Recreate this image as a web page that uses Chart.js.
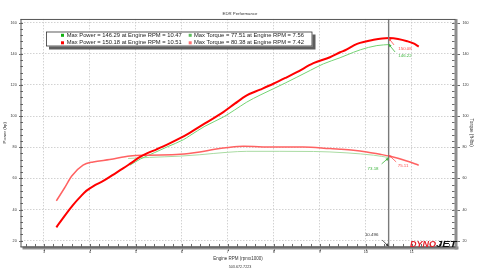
<!DOCTYPE html>
<html><head><meta charset="utf-8">
<script src="https://cdn.jsdelivr.net/npm/chart.js@4/dist/chart.umd.min.js"></script>
<style>html,body{margin:0;padding:0;background:#fff;}#wrap{width:480px;height:270px;}</style>
</head><body><div id="wrap"><canvas id="c" width="480" height="270"></canvas></div>
<script>
// ---- text ----
const chartTitle = 'EDR Performance';
const xTitle = 'Engine RPM (rpmx1000)';
const footerText = '503.672.7223';
const leftTitle = 'Power (hp)';
const rightTitle = 'Torque (ft-lbs)';
const legendRun1 = ['Max Power = 146.29 at Engine RPM = 10.47', 'Max Torque = 77.51 at Engine RPM = 7.56'];
const legendRun2 = ['Max Power = 150.18 at Engine RPM = 10.51', 'Max Torque = 80.38 at Engine RPM = 7.42'];

// ---- axis ranges / ticks ----
const rpmRange = [2.49, 11.95];
const valueRange = [16.3, 162.4];
const rpmMinorStep = 0.2, rpmMajorStep = 1;
const valueMinorStep = 4, valueMajorStep = 20;

// ---- run 2 (red) ----
const run2PowerRpm = [3.27,3.45,3.63,3.8,3.92,4.1,4.29,4.5,4.72,4.9,5.09,5.25,5.45,5.7,5.96,6.17,6.5,6.9,7.15,7.41,7.7,7.99,8.25,8.5,8.86,9.22,9.44,9.55,9.81,10.17,10.5,10.7,10.9,11.05,11.15];
const run2PowerHp  = [28.6,36.0,42.9,48.5,52.0,55.5,58.4,62.3,66.4,70.0,73.8,76.2,78.7,82.0,85.8,89.3,95.3,102.6,108.0,113.3,117.0,120.8,124.5,128.2,134.0,137.8,141.0,142.3,146.4,149.0,150.1,149.6,148.1,146.5,144.7];
const run2TorqueRpm = [3.27,3.45,3.6,3.85,4.07,4.43,4.87,5.3,5.96,6.39,6.68,7.0,7.34,7.99,8.64,9.22,9.44,9.73,10.02,10.31,10.53,10.89,11.15];
const run2TorqueFtlb = [45.6,54.0,61.4,68.5,70.6,72.1,74.4,74.9,75.5,77.0,78.5,79.8,80.6,80.2,80.2,79.2,78.8,78.1,77.0,75.5,74.2,71.2,68.5];

// ---- run 1 (green) ----
const run1PowerRpm = [4.87,5.1,5.4,5.7,6.03,6.17,6.5,6.9,7.15,7.41,7.7,7.99,8.25,8.5,8.8,9.08,9.44,9.59,9.88,10.24,10.53];
const run1PowerHp  = [68.5,72.5,76.5,80.5,84.8,87.4,93.5,99.4,104.0,109.0,113.5,117.6,121.3,125.0,129.5,133.6,137.5,139.3,142.6,145.3,146.0];
const run1TorqueRpm = [4.83,5.3,5.96,6.39,6.68,7.0,7.41,8.13,8.86,9.22,9.59,10.17,10.5];
const run1TorqueFtlb = [72.8,73.5,74.3,75.2,76.0,76.8,77.4,77.4,77.3,77.0,76.4,74.9,73.4];

// ---- marker + callouts ----
const markerRpm = 10.496;
const markerLabel = '10.496';
const calloutValues = [150.08, 146.22, 73.18, 75.11];
const calloutAxes = ['y', 'y', 'y2', 'y2'];

// ---- styles ----
const F = '"Liberation Sans", Arial, sans-serif';
const TXT = '#333';
const C_RED = '#ff0000', C_RED_T = '#ff6262', C_GRN = '#74d474', C_GRN_T = '#a9dba2';
const calloutStyle = [
  {color:'#ff4848', dx:16.4, dy:11.1, ax:5.4, ay:6.8},
  {color:'#3cb43c', dx:16.4, dy:11.5, ax:6.4, ay:7.8},
  {color:'#3cb43c', dx:-15.6, dy:11.1, ax:-7, ay:6},
  {color:'#ff5050', dx:14.4, dy:11.1, ax:7.5, ay:7}
];

const pts = (xs, ys) => xs.map((x, i) => ({x: x, y: ys[i]}));
const isMajor = (v, step) => Math.abs(v / step - Math.round(v / step)) < 1e-6;

function arrow(ctx, x1, y1, x2, y2, color) {
  ctx.save();
  ctx.strokeStyle = color; ctx.fillStyle = color; ctx.lineWidth = 0.8;
  ctx.beginPath(); ctx.moveTo(x1, y1); ctx.lineTo(x2, y2); ctx.stroke();
  const a = Math.atan2(y2 - y1, x2 - x1), L = 3, W = 1.4;
  ctx.beginPath(); ctx.moveTo(x2, y2);
  ctx.lineTo(x2 - L*Math.cos(a) + W*Math.sin(a), y2 - L*Math.sin(a) - W*Math.cos(a));
  ctx.lineTo(x2 - L*Math.cos(a) - W*Math.sin(a), y2 - L*Math.sin(a) + W*Math.cos(a));
  ctx.closePath(); ctx.fill();
  ctx.restore();
}

const decor = {
  id: 'decor',
  afterDatasetsDraw(chart) {
    const ctx = chart.ctx, ca = chart.chartArea, sx = chart.scales.x;
    const mx = sx.getPixelForValue(markerRpm);
    ctx.save();
    ctx.strokeStyle = '#7a7a7a'; ctx.lineWidth = 1.4;
    ctx.beginPath(); ctx.moveTo(mx, ca.top); ctx.lineTo(mx, ca.bottom); ctx.stroke();
    ctx.font = '4.4px ' + F; ctx.textAlign = 'center'; ctx.textBaseline = 'middle';
    calloutValues.forEach((v, i) => {
      const s = calloutStyle[i];
      const py = chart.scales[calloutAxes[i]].getPixelForValue(v);
      arrow(ctx, mx + s.ax, py + s.ay, mx, py, s.color);
      ctx.fillStyle = s.color;
      ctx.fillText(v.toFixed(2), mx + s.dx, py + s.dy);
    });
    arrow(ctx, mx - 6.5, ca.bottom - 6.5, mx, ca.bottom, '#333');
    ctx.fillStyle = TXT;
    ctx.fillText(markerLabel, mx - 17, ca.bottom - 11.5);
    ctx.restore();
  },
  afterDraw(chart) {
    const ctx = chart.ctx, ca = chart.chartArea;
    const {left, right, top, bottom} = ca;
    ctx.save();
    ctx.fillStyle = '#8e8e8e';
    ctx.fillRect(right - 1, top, 3, bottom - top + 3);
    ctx.fillRect(left + 2, bottom, right - left + 1, 3);
    ctx.strokeStyle = '#555'; ctx.lineWidth = 1;
    ctx.beginPath(); ctx.moveTo(left, top + 0.5); ctx.lineTo(right, top + 0.5); ctx.stroke();
    ctx.beginPath(); ctx.moveTo(left + 0.5, top); ctx.lineTo(left + 0.5, bottom + 0.5); ctx.stroke();
    ctx.strokeStyle = '#444';
    ctx.beginPath(); ctx.moveTo(left, bottom + 0.5); ctx.lineTo(right, bottom + 0.5); ctx.stroke();
    ctx.strokeStyle = '#444'; ctx.lineWidth = 0.8;
    const sx = chart.scales.x;
    sx.ticks.forEach(t => {
      const p = Math.round(sx.getPixelForValue(t.value)) + 0.5;
      ctx.beginPath(); ctx.moveTo(p, bottom); ctx.lineTo(p, bottom - 2.5); ctx.stroke();
      if (isMajor(t.value, rpmMajorStep)) { ctx.beginPath(); ctx.moveTo(p, bottom + 3); ctx.lineTo(p, bottom + 4.5); ctx.stroke(); }
    });
    const sy = chart.scales.y;
    sy.ticks.forEach(t => {
      const p = Math.round(sy.getPixelForValue(t.value)) + 0.5;
      ctx.beginPath(); ctx.moveTo(left, p); ctx.lineTo(left + 2.5, p); ctx.stroke();
      if (isMajor(t.value, valueMajorStep)) { ctx.beginPath(); ctx.moveTo(left - 1.5, p); ctx.lineTo(left, p); ctx.stroke(); }
    });
    const sy2 = chart.scales.y2;
    sy2.ticks.forEach(t => {
      const p = Math.round(sy2.getPixelForValue(t.value)) + 0.5;
      ctx.beginPath(); ctx.moveTo(right - 1, p); ctx.lineTo(right - 3.5, p); ctx.stroke();
      if (isMajor(t.value, valueMajorStep)) { ctx.beginPath(); ctx.moveTo(right + 2, p); ctx.lineTo(right + 4.5, p); ctx.stroke(); }
    });
    const lx = 46, ly = 31.5, lw = 266.5, lh = 15;
    ctx.fillStyle = '#5e5e5e'; ctx.fillRect(lx + 3, ly + 3, lw, lh);
    ctx.fillStyle = '#fff'; ctx.fillRect(lx, ly, lw, lh);
    ctx.strokeStyle = '#333'; ctx.lineWidth = 0.8; ctx.strokeRect(lx + 0.5, ly + 0.5, lw - 1, lh - 1);
    ctx.font = '5.8px ' + F; ctx.textAlign = 'left'; ctx.textBaseline = 'middle';
    const rows = [[legendRun1, ['#10b010', '#5cbc5c']], [legendRun2, ['#ff0000', '#ff7070']]];
    const rowY = [35.3, 42.8], sqX = [61, 188.7], txX = [66.7, 194];
    rows.forEach((r, ri) => {
      r[0].forEach((txt, ci) => {
        ctx.fillStyle = r[1][ci]; ctx.fillRect(sqX[ci], rowY[ri] - 1.5, 3, 3);
        ctx.fillStyle = '#222'; ctx.fillText(txt, txX[ci], rowY[ri]);
      });
    });
    ctx.textBaseline = 'alphabetic';
    ctx.font = 'italic bold 9px ' + F;
    ctx.fillStyle = '#e3202a';
    ctx.fillText('DYNO', 410, 246.5);
    const w = ctx.measureText('DYNO').width;
    ctx.save(); ctx.translate(410 + w, 246.5); ctx.scale(1.25, 1);
    ctx.fillStyle = '#111'; ctx.fillText('JET', 0, 0);
    ctx.restore();
    ctx.restore();
  }
};

const yTicks = {stepSize: valueMinorStep, includeBounds: false, maxTicksLimit: 200, autoSkip: false,
  color: TXT, font: {family: F, size: 3.7}, callback: v => isMajor(v, valueMajorStep) ? String(Math.round(v)) : ''};
const gridY = {drawTicks: false, lineWidth: 0.8, color: c => (c.tick && isMajor(c.tick.value, valueMajorStep)) ? '#c6c6c6' : 'rgba(0,0,0,0)'};

new Chart(document.getElementById('c'), {
  type: 'line',
  data: {
    datasets: [
      {label: 'Run 2 Power', data: pts(run2PowerRpm, run2PowerHp), yAxisID: 'y', borderColor: C_RED, borderWidth: 2, order: 0},
      {label: 'Run 2 Torque', data: pts(run2TorqueRpm, run2TorqueFtlb), yAxisID: 'y2', borderColor: C_RED_T, borderWidth: 1.5, order: 1},
      {label: 'Run 1 Power', data: pts(run1PowerRpm, run1PowerHp), yAxisID: 'y', borderColor: C_GRN, borderWidth: 1, order: 2},
      {label: 'Run 1 Torque', data: pts(run1TorqueRpm, run1TorqueFtlb), yAxisID: 'y2', borderColor: C_GRN_T, borderWidth: 1, order: 3}
    ].map(d => Object.assign(d, {pointRadius: 0, fill: false, cubicInterpolationMode: 'monotone'}))
  },
  options: {
    responsive: false, animation: false, devicePixelRatio: 1,
    layout: {padding: 0},
    plugins: {
      legend: {display: false}, tooltip: {enabled: false},
      title: {display: true, text: chartTitle, color: TXT, font: {family: F, size: 4.3, weight: 'normal'}, padding: {top: 11.2, bottom: 2.6}},
      subtitle: {display: true, position: 'bottom', text: footerText, color: TXT, font: {family: F, size: 3.7}, padding: {top: 0, bottom: 1.1}}
    },
    scales: {
      x: {type: 'linear', position: 'bottom', min: rpmRange[0], max: rpmRange[1],
        ticks: {stepSize: rpmMinorStep, includeBounds: false, maxTicksLimit: 200, autoSkip: false, maxRotation: 0, minRotation: 0,
          padding: 3.5, color: TXT, font: {family: F, size: 3.8},
          callback: v => isMajor(v, rpmMajorStep) ? String(Math.round(v)) : ''},
        grid: {drawTicks: false, lineWidth: 0.8, color: c => (c.tick && isMajor(c.tick.value, rpmMajorStep)) ? '#c6c6c6' : 'rgba(0,0,0,0)'},
        border: {display: false, dash: [1.5, 1.5]},
        title: {display: true, text: xTitle, color: TXT, font: {family: F, size: 4.5}, padding: {top: 0, bottom: 3.4}},
        afterFit: s => { s.height = 18; }
      },
      y: {type: 'linear', position: 'left', min: valueRange[0], max: valueRange[1],
        ticks: Object.assign({padding: 3.8}, yTicks), grid: gridY,
        border: {display: false, dash: [1.5, 1.5]},
        title: {display: true, text: leftTitle, color: TXT, font: {family: F, size: 4.4}, padding: {top: 1.8, bottom: 0}},
        afterFit: s => { s.width = 20.5; }
      },
      y2: {type: 'linear', position: 'right', min: valueRange[0], max: valueRange[1],
        ticks: Object.assign({padding: 7}, yTicks), grid: {drawOnChartArea: false, drawTicks: false},
        border: {display: false},
        title: {display: true, text: rightTitle, color: TXT, font: {family: F, size: 4.6}, padding: {top: 5.7, bottom: 0}},
        afterFit: s => { s.width = 24.5; }
      }
    }
  },
  plugins: [decor]
});
</script></body></html>
